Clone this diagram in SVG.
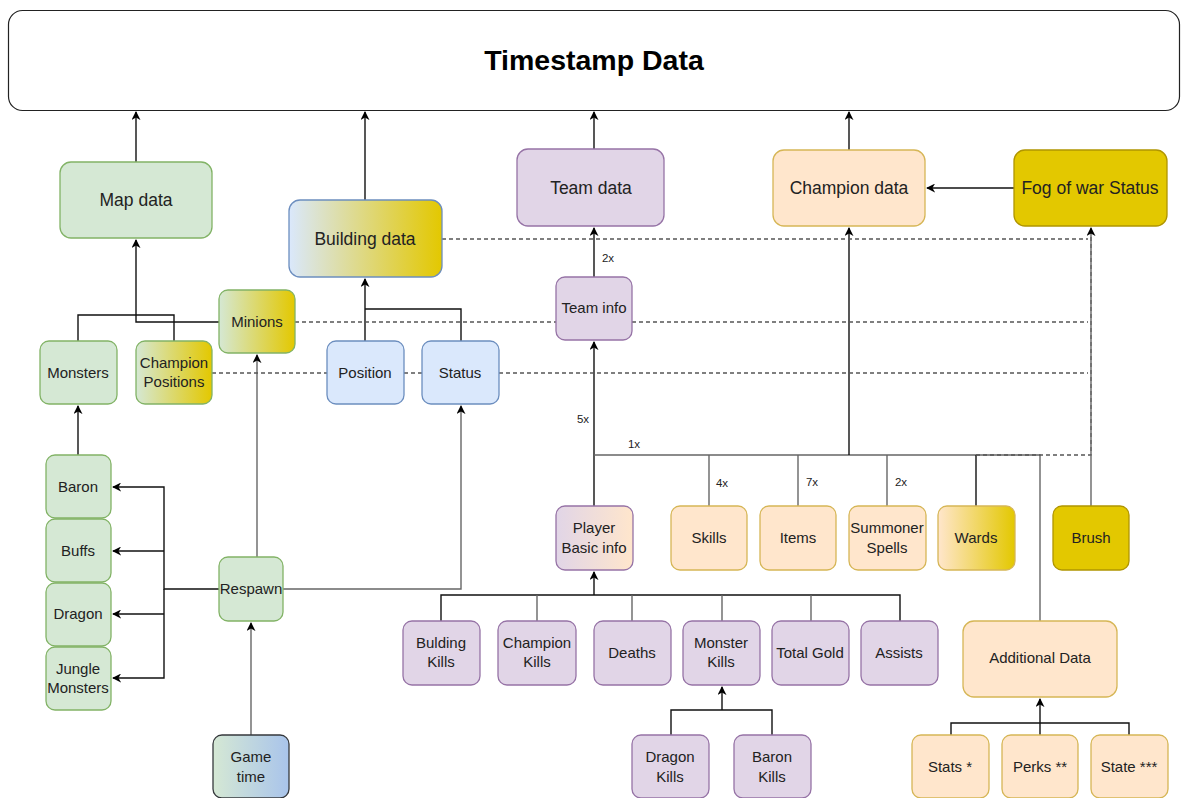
<svg xmlns="http://www.w3.org/2000/svg" width="1181" height="798" viewBox="0 0 1181 798">
<defs>
<style>
text{font-family:"Liberation Sans",Arial,sans-serif;fill:#222;text-anchor:middle}
.t{font-size:15px}
.b{font-size:17.5px}
.lbl{font-size:11.5px}
.g{fill:#d5e8d4;stroke:#82b366;stroke-width:1.3}
.bl{fill:#dae8fc;stroke:#6c8ebf;stroke-width:1.3}
.p{fill:#e1d5e7;stroke:#9673a6;stroke-width:1.3}
.o{fill:#ffe6cc;stroke:#d6b656;stroke-width:1.3}
.y{fill:#e3c800;stroke:#b09500;stroke-width:1.3}
.c{fill:none;stroke:#111;stroke-width:1.4}
.cg{fill:none;stroke:#666;stroke-width:1.4}
.d{fill:none;stroke:#555;stroke-width:1.3;stroke-dasharray:4 3}
.a{marker-end:url(#arr)}
</style>
<marker id="arr" viewBox="0 0 10 10" refX="9" refY="5" markerWidth="9" markerHeight="9" markerUnits="userSpaceOnUse" orient="auto"><path d="M0,0 L10,5 L0,10 L3,5 z" fill="#000"/></marker>
<linearGradient id="gBy" x1="0" y1="0" x2="1" y2="0"><stop offset="0" stop-color="#dae8fc"/><stop offset="1" stop-color="#e3c800"/></linearGradient>
<linearGradient id="gGy" x1="0" y1="0" x2="1" y2="0"><stop offset="0" stop-color="#d5e8d4"/><stop offset="1" stop-color="#e3c800"/></linearGradient>
<linearGradient id="gGb" x1="0" y1="0" x2="1" y2="0"><stop offset="0" stop-color="#d5e8d4"/><stop offset="1" stop-color="#a9c4eb"/></linearGradient>
<linearGradient id="gPo" x1="0" y1="0" x2="1" y2="0"><stop offset="0" stop-color="#e1d5e7"/><stop offset="1" stop-color="#ffe6cc"/></linearGradient>
<linearGradient id="gOy" x1="0" y1="0" x2="1" y2="0"><stop offset="0" stop-color="#ffe6cc"/><stop offset="1" stop-color="#e3c800"/></linearGradient>
</defs>

<g id="connectors">
<path class="c a" d="M136,162 V112"/>
<path class="c a" d="M365,200 V112"/>
<path class="c a" d="M594,149 V112"/>
<path class="c a" d="M849,150 V112"/>
<path class="c a" d="M1014,188 H927"/>
<path class="c a" d="M219,322 H136 V240"/>
<path class="c" d="M78,341 V315 H174 V341"/>
<path class="c a" d="M78,455 V406"/>
<path class="c a" d="M219,589 H164 V487 H113"/>
<path class="c a" d="M164,551 H113"/>
<path class="c a" d="M164,614 H113"/>
<path class="c a" d="M164,589 V678 H113"/>
<path class="cg a" d="M257,557 V355"/>
<path class="cg a" d="M283,589 H461 V406"/>
<path class="cg a" d="M251,735 V623"/>
<path class="c a" d="M365,341 V279"/>
<path class="c" d="M461,341 V309 H365"/>
<path class="c a" d="M594,277 V228"/>
<path class="c a" d="M594,506 V342"/>
<path class="cg" d="M594,455 H1040 V621"/>
<path class="c a" d="M849,455 V228"/>
<path class="cg" d="M709,455 V506"/>
<path class="cg" d="M798,455 V506"/>
<path class="cg" d="M887,455 V506"/>
<path class="c" d="M976,455 V506"/>
<path class="d" d="M976,455 H1091 V228"/>
<path class="cg a" d="M1091,506 V228"/>
<path class="d" d="M442,239 H1088"/>
<path class="d" d="M295,322 H556"/>
<path class="d" d="M632,322 H1088"/>
<path class="d" d="M212,373 H327"/>
<path class="d" d="M404,373 H422"/>
<path class="d" d="M499,373 H1088"/>
<path class="c" d="M441,621 V595 H900 V621"/>
<path class="cg" d="M537,595 V621"/>
<path class="cg" d="M632,595 V621"/>
<path class="cg" d="M722,595 V621"/>
<path class="cg" d="M811,595 V621"/>
<path class="c a" d="M594,595 V572"/>
<path class="c" d="M671,735 V710 H772 V735"/>
<path class="c a" d="M722,710 V687"/>
<path class="c" d="M951,735 V723 H1129 V735"/>
<path class="c a" d="M1040,735 V699"/>
<g id="labels">
<rect x="600" y="250" width="17" height="15" fill="#fff"/><text class="lbl" x="608" y="262">2x</text>
<rect x="575" y="411" width="17" height="15" fill="#fff"/><text class="lbl" x="583" y="423">5x</text>
<rect x="626" y="436" width="17" height="15" fill="#fff"/><text class="lbl" x="634" y="448">1x</text>
<rect x="714" y="475" width="17" height="15" fill="#fff"/><text class="lbl" x="722" y="487">4x</text>
<rect x="804" y="474" width="17" height="15" fill="#fff"/><text class="lbl" x="812" y="486">7x</text>
<rect x="893" y="474" width="17" height="15" fill="#fff"/><text class="lbl" x="901" y="486">2x</text>
</g>
</g>

<g id="title"><rect x="8.5" y="10.5" width="1171" height="100" rx="14" fill="#fff" stroke="#222" stroke-width="1.2"/><text x="594" y="70" font-size="28.5" font-weight="bold" style="fill:#000">Timestamp Data</text></g>

<g id="mapdata"><rect class="g" x="60" y="162" width="152" height="76" rx="11"/><text class="b" x="136" y="206">Map data</text></g>
<g id="buildingdata"><rect x="289" y="200" width="153" height="77" rx="11" fill="url(#gBy)" stroke="#6c8ebf" stroke-width="1.3"/><text class="b" x="365" y="245">Building data</text></g>
<g id="teamdata"><rect class="p" x="517" y="149" width="147" height="77" rx="11"/><text class="b" x="591" y="194">Team data</text></g>
<g id="championdata"><rect class="o" x="773" y="150" width="152" height="76" rx="11"/><text class="b" x="849" y="194">Champion data</text></g>
<g id="fog"><rect class="y" x="1014" y="150" width="153" height="76" rx="11"/><text class="b" x="1090" y="194">Fog of war Status</text></g>

<g id="minions"><rect x="219" y="290" width="76" height="63" rx="9" fill="url(#gGy)" stroke="#82b366" stroke-width="1.3"/><text class="t" x="257" y="327">Minions</text></g>
<g id="monsters"><rect class="g" x="40" y="341" width="77" height="63" rx="9"/><text class="t" x="78" y="378">Monsters</text></g>
<g id="champpos"><rect x="136" y="341" width="76" height="63" rx="9" fill="url(#gGy)" stroke="#82b366" stroke-width="1.3"/><text class="t" x="174" y="368">Champion</text><text class="t" x="174" y="387">Positions</text></g>
<g id="position"><rect class="bl" x="327" y="341" width="77" height="63" rx="9"/><text class="t" x="365" y="378">Position</text></g>
<g id="status"><rect class="bl" x="422" y="341" width="77" height="63" rx="9"/><text class="t" x="460" y="378">Status</text></g>
<g id="teaminfo"><rect class="p" x="556" y="277" width="76" height="63" rx="9"/><text class="t" x="594" y="313">Team info</text></g>

<g id="baron"><rect class="g" x="46" y="455" width="65" height="63" rx="9"/><text class="t" x="78" y="492">Baron</text></g>
<g id="buffs"><rect class="g" x="46" y="519" width="65" height="63" rx="9"/><text class="t" x="78" y="556">Buffs</text></g>
<g id="dragon"><rect class="g" x="46" y="583" width="65" height="63" rx="9"/><text class="t" x="78" y="619">Dragon</text></g>
<g id="jungle"><rect class="g" x="46" y="647" width="65" height="63" rx="9"/><text class="t" x="78" y="674">Jungle</text><text class="t" x="78" y="693">Monsters</text></g>
<g id="respawn"><rect class="g" x="219" y="557" width="64" height="64" rx="9"/><text class="t" x="251" y="594">Respawn</text></g>
<g id="gametime"><rect x="213" y="735" width="76" height="63" rx="9" fill="url(#gGb)" stroke="#36393d" stroke-width="1.3"/><text class="t" x="251" y="762">Game</text><text class="t" x="251" y="782">time</text></g>

<g id="player"><rect x="556" y="506" width="77" height="64" rx="9" fill="url(#gPo)" stroke="#9673a6" stroke-width="1.3"/><text class="t" x="594" y="533">Player</text><text class="t" x="594" y="553">Basic info</text></g>
<g id="skills"><rect class="o" x="671" y="506" width="76" height="64" rx="9"/><text class="t" x="709" y="543">Skills</text></g>
<g id="items"><rect class="o" x="760" y="506" width="76" height="64" rx="9"/><text class="t" x="798" y="543">Items</text></g>
<g id="summoner"><rect class="o" x="849" y="506" width="77" height="64" rx="9"/><text class="t" x="887" y="533">Summoner</text><text class="t" x="887" y="553">Spells</text></g>
<g id="wards"><rect x="938" y="506" width="77" height="64" rx="9" fill="url(#gOy)" stroke="#d6b656" stroke-width="1.3"/><text class="t" x="976" y="543">Wards</text></g>
<g id="brush"><rect class="y" x="1053" y="506" width="76" height="64" rx="9"/><text class="t" x="1091" y="543">Brush</text></g>

<g id="buildingkills"><rect class="p" x="403" y="621" width="77" height="64" rx="9"/><text class="t" x="441" y="648">Bulding</text><text class="t" x="441" y="667">Kills</text></g>
<g id="championkills"><rect class="p" x="498" y="621" width="78" height="64" rx="9"/><text class="t" x="537" y="648">Champion</text><text class="t" x="537" y="667">Kills</text></g>
<g id="deaths"><rect class="p" x="594" y="621" width="77" height="64" rx="9"/><text class="t" x="632" y="658">Deaths</text></g>
<g id="monsterkills"><rect class="p" x="683" y="621" width="77" height="64" rx="9"/><text class="t" x="721" y="648">Monster</text><text class="t" x="721" y="667">Kills</text></g>
<g id="totalgold"><rect class="p" x="772" y="621" width="77" height="64" rx="9"/><text class="t" x="810" y="658">Total Gold</text></g>
<g id="assists"><rect class="p" x="861" y="621" width="77" height="64" rx="9"/><text class="t" x="899" y="658">Assists</text></g>
<g id="additional"><rect class="o" x="963" y="621" width="154" height="76" rx="11"/><text class="t" x="1040" y="663">Additional Data</text></g>

<g id="dragonkills"><rect class="p" x="632" y="735" width="77" height="63" rx="9"/><text class="t" x="670" y="762">Dragon</text><text class="t" x="670" y="782">Kills</text></g>
<g id="baronkills"><rect class="p" x="734" y="735" width="77" height="63" rx="9"/><text class="t" x="772" y="762">Baron</text><text class="t" x="772" y="782">Kills</text></g>
<g id="stats"><rect class="o" x="912" y="735" width="77" height="63" rx="9"/><text class="t" x="950" y="772">Stats *</text></g>
<g id="perks"><rect class="o" x="1002" y="735" width="76" height="63" rx="9"/><text class="t" x="1040" y="772">Perks **</text></g>
<g id="state"><rect class="o" x="1091" y="735" width="77" height="63" rx="9"/><text class="t" x="1129" y="772">State ***</text></g>
</svg>
